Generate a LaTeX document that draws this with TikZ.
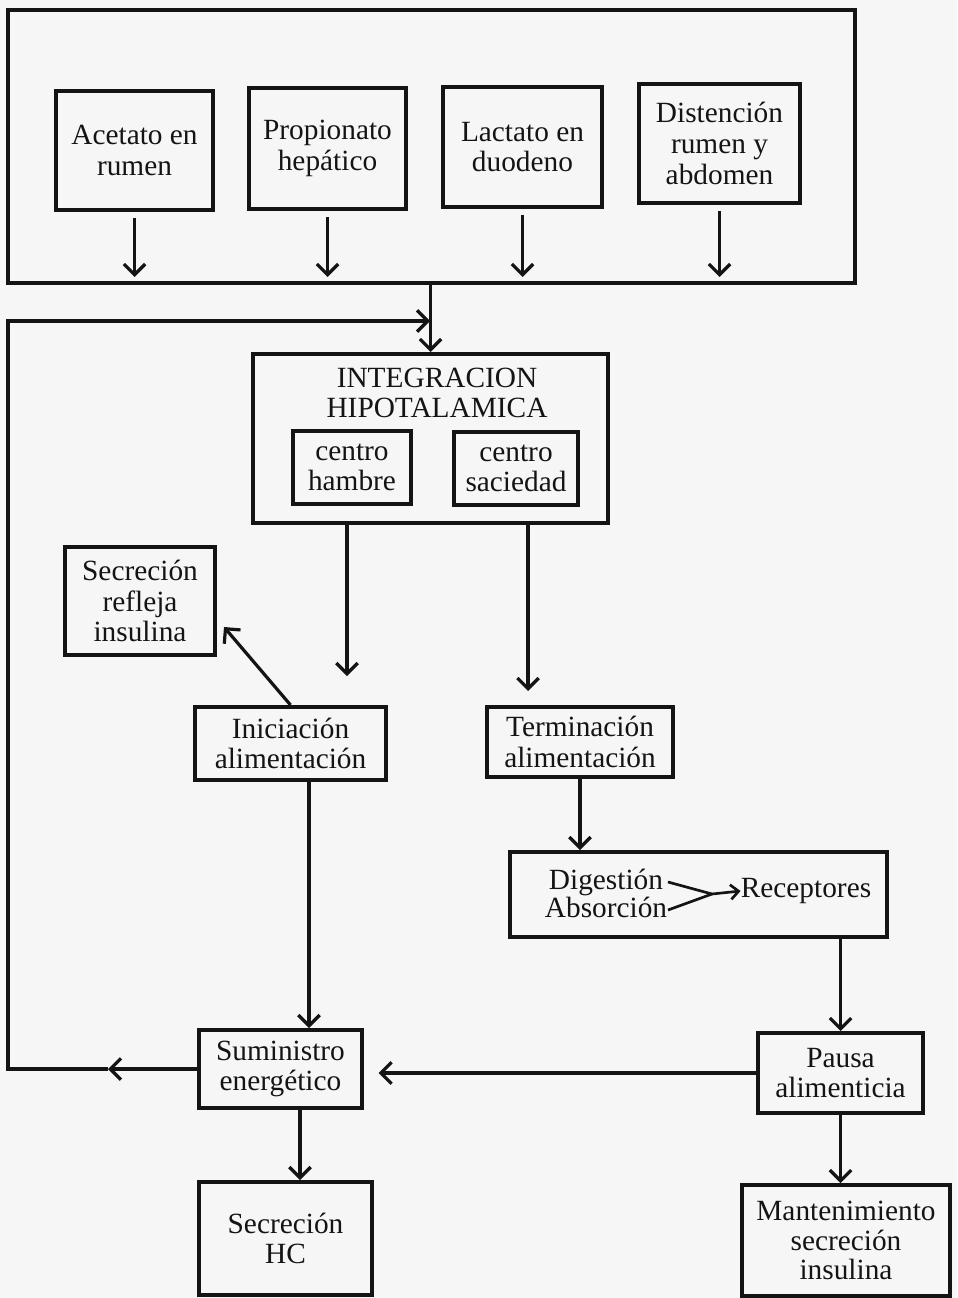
\documentclass[tikz,border=0pt]{standalone}
\usepackage{fontspec}
\setmainfont{Liberation Serif}
\usetikzlibrary{arrows.meta}
\definecolor{ink}{RGB}{20,20,20}
\definecolor{paper}{RGB}{246,246,246}
\begin{document}
\begin{tikzpicture}[x=0.75pt,y=-0.75pt,
  txt/.style={text=ink, font=\fontsize{22pt}{23pt}\selectfont},
  bx/.style={txt, draw=ink, line width=3pt, align=center, inner sep=0pt},
  sz/.style 2 args={minimum width={#1*0.75pt}, minimum height={#2*0.75pt}},
  lbl/.style={txt, align=center, inner sep=0pt},
  ln/.style={draw=ink, line width=2.4pt},
  arr/.style={ln, -{Straight Barb[length=8pt,width=16pt,line width=2.4pt]}},
  lnthin/.style={draw=ink, line width=2pt},
  arrthin/.style={lnthin, -{Straight Barb[length=6pt,width=11pt,line width=2pt]}}
]
\fill[paper] (0,0) rectangle (957,1298);
\useasboundingbox (0,0) rectangle (957,1298);

% top group
\node[bx, sz={847}{273}] (top) at (431.5,146.5) {};
\node[bx, sz={157}{119}] (acet) at (134.5,150.5) {Acetato en\\rumen};
\node[bx, sz={157}{121}] (prop) at (327.5,148.5) {Propionato\\hepático};
\node[bx, sz={159}{120}] (lact) at (522.5,147) {Lactato en\\duodeno};
\node[bx, sz={161}{119}] (dist) at (719.5,143.5) {Distención\\rumen y\\abdomen};

% hypothalamus
\node[bx, sz={355}{169}] (integ) at (430.5,438.5) {};
\node[lbl] (integt) at (437,393) {INTEGRACION\\HIPOTALAMICA};
\node[bx, sz={118}{73}] (hambre) at (352,467.5) {centro\\hambre};
\node[bx, sz={124}{73}] (sac) at (516,468.5) {centro\\saciedad};

% middle
\node[bx, sz={150}{108}] (secref) at (140,601) {Secreción\\refleja\\insulina};
\node[bx, sz={191}{73}] (inic) at (290.5,743.5) {Iniciación\\alimentación};
\node[bx, sz={186}{70}] (term) at (580,742) {Terminación\\alimentación};

\node[bx, sz={377}{85}] (dig) at (698.5,894.5) {};
\node[lbl, font=\fontsize{22pt}{21pt}\selectfont] (digt) at (606,893) {Digestión\\Absorción};
\node[lbl] (rec) at (806,891) {Receptores};

% bottom
\node[bx, sz={163}{78}] (sum) at (280.5,1069) {Suministro\\energético};
\node[bx, sz={165}{80}] (pausa) at (840.5,1073) {Pausa\\alimenticia};
\node[bx, sz={173}{113}] (hc) at (285.5,1238.5) {Secreción\\HC};
\node[bx, sz={208}{111}, font=\fontsize{22pt}{22pt}\selectfont] (mant) at (846,1240.5) {Mantenimiento\\secreción\\insulina};

% helper x positions
\coordinate (xh) at (347,0);
\coordinate (xs) at (528,0);
\coordinate (xi) at (309,0);
\coordinate (xc) at (300,0);

% connectors top
\foreach \n in {acet,prop,lact,dist}
  \draw[arr, shorten <=4.5pt, shorten >=6pt] (\n.south) -- (\n.south |- top.south);
\draw[arr] (top.south -| integ.north) -- (integ.north);

% feedback loop
\coordinate (fbmid) at (108,1069);
\coordinate (fbc1) at (8,1069);
\coordinate (fbc2) at (8,321);
\coordinate (fbend) at (430,321);
\draw[arr] (sum.west) -- (fbmid);
\draw[arr] (fbmid) -- (fbc1) -- (fbc2) -- (fbend);

% hypothalamus outputs
\draw[arr, shorten >=21.75pt] (integ.south -| xh) -- (inic.north -| xh);
\draw[arr, shorten >=10.5pt] (integ.south -| xs) -- (term.north -| xs);
\draw[arr] (inic.north) -- ([xshift=5.25pt,yshift=-19.5pt]secref.east);
\draw[arr] (inic.south -| xi) -- (sum.north -| xi);
\draw[arr] (term.south) -- (dig.north -| term.south);

% digestion inner
\coordinate (j1) at (668,882);
\coordinate (j2) at (668,910);
\coordinate (jm) at (712,894);
\draw[lnthin] (j1) -- (jm);
\draw[lnthin] (j2) -- (jm);
\draw[arrthin] (jm) -- (rec.west);

\draw[arr] (dig.south -| pausa.north) -- (pausa.north);
\draw[arr, shorten >=11pt] (pausa.west) -- (pausa.west -| sum.east);
\draw[arr] (sum.south -| xc) -- (hc.north -| xc);
\draw[arr] (pausa.south) -- (mant.north -| pausa.south);
\end{tikzpicture}
\end{document}
